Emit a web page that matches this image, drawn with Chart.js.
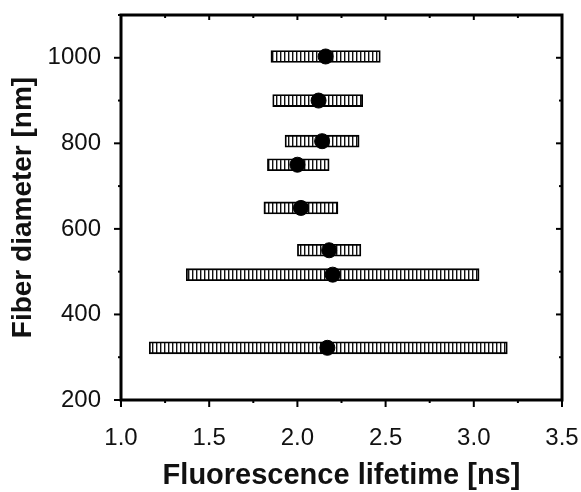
<!DOCTYPE html>
<html>
<head>
<meta charset="utf-8">
<script src="https://cdn.jsdelivr.net/npm/chart.js@4/dist/chart.umd.min.js"></script>
<style>
  html, body { margin: 0; padding: 0; background: #fff; }
  #wrap { width: 581px; height: 492px; }
</style>
</head>
<body>
<div id="wrap"><canvas id="myChart"></canvas></div>
<script>
// fiber diameter [nm] for each sample
const diameters = [1003, 900, 805, 750, 649, 550, 493, 322];
// mean fluorescence lifetime [ns]
const lifetimes = [2.16, 2.12, 2.14, 2.00, 2.02, 2.18, 2.20, 2.17];
// range of lifetimes (bar ends)
const lowEnds = [1.85, 1.86, 1.93, 1.83, 1.81, 2.00, 1.37, 1.16];
const highEnds = [2.47, 2.37, 2.35, 2.18, 2.23, 2.36, 3.03, 3.19];

const xTicks = [1.0, 1.5, 2.0, 2.5, 3.0, 3.5];
const xMinor = [1.25, 1.75, 2.25, 2.75, 3.25];
const yTicks = [200, 400, 600, 800, 1000];
const yMinor = [300, 500, 700, 900, 1100];

const FONT = "Liberation Sans, Arial";

function stripes() {
  const c = document.createElement("canvas");
  c.width = 4;
  c.height = 4;
  const g = c.getContext("2d");
  g.fillStyle = "#fff";
  g.fillRect(0, 0, 4, 4);
  g.fillStyle = "#111";
  g.fillRect(0, 0, 1.4, 4);
  return g.createPattern(c, "repeat");
}

// frame + tick marks like the original plot
const frameTicks = {
  id: "frameTicks",
  afterDraw(chart) {
    const { ctx, chartArea: a, scales } = chart;
    const x = scales.x, y = scales.y;
    ctx.save();
    ctx.strokeStyle = "#000";
    ctx.lineWidth = 2;
    const tick = (x1, y1, x2, y2) => {
      ctx.beginPath();
      ctx.moveTo(x1, y1);
      ctx.lineTo(x2, y2);
      ctx.stroke();
    };
    xTicks.forEach((v) => {
      const p = x.getPixelForValue(v);
      tick(p, a.bottom, p, a.bottom + 7);
      tick(p, a.top, p, a.top + 5);
    });
    xMinor.forEach((v) => {
      const p = x.getPixelForValue(v);
      tick(p, a.bottom, p, a.bottom + 3);
      tick(p, a.top, p, a.top + 3);
    });
    yTicks.forEach((v) => {
      const p = y.getPixelForValue(v);
      tick(a.left - 7, p, a.left, p);
      tick(a.right - 6, p, a.right, p);
    });
    yMinor.forEach((v) => {
      const p = y.getPixelForValue(v);
      tick(a.left - 3, p, a.left, p);
      tick(a.right - 3, p, a.right, p);
    });
    ctx.lineWidth = 3;
    ctx.strokeRect(a.left, a.top, a.right - a.left, a.bottom - a.top);
    ctx.restore();
  },
};

const data = {
  datasets: [
    {
      type: "scatter",
      order: 0,
      data: lifetimes.map((v, i) => ({ x: v, y: diameters[i] })),
      backgroundColor: "#000",
      borderColor: "#000",
      pointRadius: 7.5,
      pointHoverRadius: 7.5,
    },
    {
      type: "bar",
      order: 1,
      indexAxis: "y",
      data: lowEnds.map((v, i) => ({ x: [v, highEnds[i]], y: diameters[i] })),
      backgroundColor: stripes(),
      borderColor: "#000",
      borderWidth: 1.8,
      borderSkipped: false,
      barThickness: 12,
    },
  ],
};

const config = {
  data: data,
  options: {
    responsive: true,
    maintainAspectRatio: false,
    animation: false,
    layout: { padding: { top: 15, right: 19, left: 0, bottom: 0 } },
    plugins: {
      legend: { display: false },
      tooltip: { enabled: false },
    },
    scales: {
      x: {
        type: "linear",
        min: 1,
        max: 3.5,
        offset: false,
        grid: { display: false, drawTicks: false },
        border: { display: false },
        afterBuildTicks: (s) => { s.ticks = xTicks.map((v) => ({ value: v })); },
        afterFit: (s) => {
          s.height = 92;
          s.paddingLeft = 0;
          s.paddingRight = 0;
        },
        ticks: {
          padding: 24,
          color: "#111",
          font: { family: FONT, size: 24 },
          callback: (v) => v.toFixed(1),
        },
        title: {
          display: true,
          text: "Fluorescence lifetime [ns]",
          color: "#111",
          font: { family: FONT, size: 29, weight: "bold", lineHeight: 1 },
          padding: { top: 0, bottom: 2 },
        },
      },
      y: {
        type: "linear",
        min: 200,
        max: 1100,
        offset: false,
        grid: { display: false, drawTicks: false },
        border: { display: false },
        afterBuildTicks: (s) => { s.ticks = yTicks.map((v) => ({ value: v })); },
        afterFit: (s) => {
          s.width = 121;
          s.paddingTop = 0;
          s.paddingBottom = 0;
        },
        ticks: {
          padding: 20,
          color: "#111",
          font: { family: FONT, size: 24 },
          callback: (v) => String(v),
        },
        title: {
          display: true,
          text: "Fiber diameter [nm]",
          color: "#111",
          font: { family: FONT, size: 28, weight: "bold", lineHeight: 1 },
          padding: { top: 9, bottom: 0 },
        },
      },
    },
  },
  plugins: [frameTicks],
};

new Chart(document.getElementById("myChart"), config);
</script>
</body>
</html>
